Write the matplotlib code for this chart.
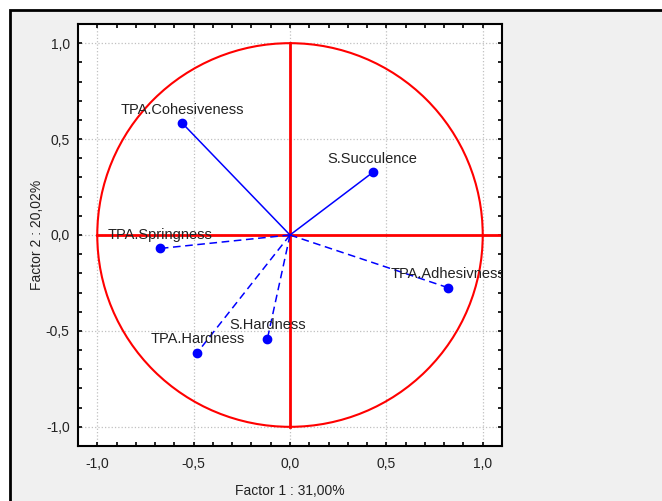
import numpy as np
import matplotlib
matplotlib.use("Agg")
from matplotlib import pyplot as plt
from matplotlib.patches import Rectangle, Circle
from matplotlib.ticker import MultipleLocator, FuncFormatter

plt.rcParams['font.family'] = ['Liberation Sans', 'DejaVu Sans']

# нагрузки переменных на факторы 1 и 2
names = ['TPA.Cohesiveness', 'S.Succulence', 'TPA.Springness',
         'TPA.Adhesivness', 'S.Hardness', 'TPA.Hardness']
factor1 = [-0.558, 0.429, -0.673, 0.818, -0.117, -0.481]
factor2 = [0.582, 0.326, -0.070, -0.274, -0.540, -0.613]
x_label = 'Factor 1 : 31,00%'
y_label = 'Factor 2 : 20,02%'

fig = plt.figure(figsize=(6.62, 5.01), dpi=100, facecolor='white')
# серая подложка с чёрной рамкой
fig.patches.append(Rectangle((10 / 662, -0.1), 1.0, 1 - 10 / 501 + 0.1,
                             transform=fig.transFigure, facecolor='#f0f0f0',
                             edgecolor='black', linewidth=2, zorder=-10))

ax = fig.add_axes([78 / 662, 55 / 501, 424 / 662, 422 / 501])
ax.set_facecolor('white')
ax.set_xlim(-1.1, 1.1)
ax.set_ylim(-1.1, 1.1)

# круг корреляций и оси
ax.add_patch(Circle((0, 0), 1.0, fill=False, edgecolor='#ff0000', linewidth=1.5, zorder=2))
ax.plot([-1.0, 1.1], [0, 0], color='#ff0000', linewidth=2, zorder=2)
ax.plot([0, 0], [-1.0, 1.0], color='#ff0000', linewidth=2, zorder=2)

for name, fx, fy in zip(names, factor1, factor2):
    style = '-' if fy > 0 else (0, (5, 3))
    ax.plot([0, fx], [0, fy], color='#0000ff', linestyle=style, linewidth=1.1, zorder=3)
    ax.plot(fx, fy, 'o', color='#0000ff', markersize=6, zorder=4)
    ax.annotate(name, (fx, fy), xytext=(0, 4.5), textcoords='offset points',
                ha='center', va='bottom', fontsize=10.5, color='#222222',
                annotation_clip=False, clip_on=True, zorder=5)

ax.xaxis.set_major_locator(MultipleLocator(0.5))
ax.yaxis.set_major_locator(MultipleLocator(0.5))
ax.xaxis.set_minor_locator(MultipleLocator(0.1))
ax.yaxis.set_minor_locator(MultipleLocator(0.1))
fmt = FuncFormatter(lambda v, p: ('%.1f' % v).replace('.', ',').replace('-0,0', '0,0'))
ax.xaxis.set_major_formatter(fmt)
ax.yaxis.set_major_formatter(fmt)
ax.tick_params(which='both', direction='in', top=True, right=True, labelsize=10,
               colors='black', labelcolor='#222222', width=1.2)
ax.tick_params(which='major', length=3, pad=6)
ax.tick_params(which='minor', length=3)
ax.tick_params(axis='x', which='major', pad=8)
ax.grid(which='major', color='#c0c0c0', linestyle=':', linewidth=0.9)
ax.set_axisbelow(True)
for s in ax.spines.values():
    s.set_linewidth(1.5)

ax.set_xlabel(x_label, fontsize=10, color='#222222', labelpad=9)
ax.set_ylabel(y_label, fontsize=10, color='#222222', labelpad=1)

fig.savefig('out.png', dpi=100, facecolor=fig.get_facecolor())
